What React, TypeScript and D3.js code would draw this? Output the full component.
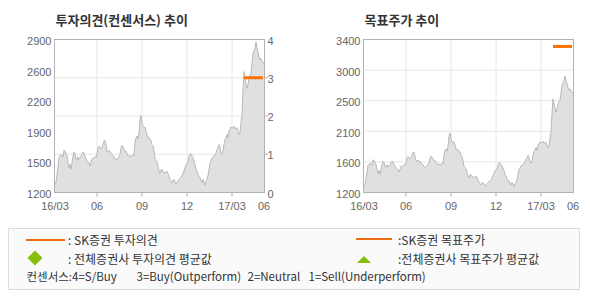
import React from 'react';
import * as d3 from 'd3';

// Daily price series (KRW), 16/03 .. 17/06
const prices: number[] = [
  1292, 1310, 1402, 1487, 1586, 1608, 1619, 1612, 1594, 1671,
  1660, 1634, 1605, 1531, 1476, 1513, 1458, 1531, 1605, 1649,
  1634, 1568, 1561, 1597, 1568, 1586, 1605, 1627, 1649, 1642,
  1597, 1575, 1557, 1542, 1524, 1494, 1531, 1575, 1575, 1586,
  1601, 1586, 1627, 1693, 1715, 1697, 1686, 1697, 1737, 1774,
  1781, 1723, 1656, 1649, 1667, 1656, 1638, 1623, 1608, 1597,
  1579, 1557, 1572, 1583, 1597, 1623, 1693, 1723, 1708, 1678,
  1660, 1660, 1634, 1612, 1601, 1612, 1594, 1605, 1619, 1605,
  1752, 1807, 1826, 1796, 1862, 2010, 2054, 1973, 1929, 1925,
  1925, 1881, 1833, 1815, 1815, 1789, 1781, 1734, 1719, 1660,
  1575, 1557, 1542, 1483, 1439, 1413, 1450, 1458, 1428, 1421,
  1413, 1432, 1436, 1410, 1377, 1347, 1329, 1310, 1329, 1347,
  1310, 1292, 1310, 1329, 1344, 1355, 1369, 1384, 1413, 1439,
  1472, 1513, 1524, 1539, 1597, 1627, 1627, 1605, 1586, 1550,
  1513, 1458, 1439, 1402, 1384, 1366, 1329, 1310, 1347, 1310,
  1281, 1329, 1347, 1384, 1458, 1531, 1550, 1586, 1586, 1605,
  1623, 1634, 1678, 1697, 1734, 1697, 1642, 1623, 1660, 1734,
  1789, 1807, 1844, 1807, 1881, 1899, 1929, 1918, 1918, 1936,
  1907, 1918, 1918, 1881, 1844, 1862, 1973, 2065, 2341, 2543,
  2470, 2414, 2359, 2396, 2470, 2506, 2525, 2635, 2745, 2782,
  2801, 2874, 2801, 2764, 2709, 2672, 2690, 2653, 2646, 2635,
];

const xTickIdx = [0, 42, 87, 132, 177, 209];
const xTickLabels = ['16/03', '06', '09', '12', '17/03', '06'];
const opinionPriceLabels = ['1200', '1500', '1900', '2200', '2600', '2900'];
const opinionLabels = ['0', '1', '2', '3', '4'];
const targetLabels = ['1200', '1600', '2100', '2500', '3000', '3400'];
const skOpinion = 3;
const skTarget = 3300;
const skStartIdx = 189;
const skEndIdx = 208;

const ORANGE = '#ff7200';
const GREEN = '#86c00c';
const GRID = '#e6e6e6';
const FRAME = '#b3b3b3';
const LABEL = '#666';
const KR = '"Noto Sans CJK KR", "Noto Sans", sans-serif';
const NUM = '"Liberation Sans", Arial, sans-serif';

const TOP = 39.5;
const BOTTOM = 192.5;

function Chart({
  x0,
  yMax,
  leftLabels,
  rightLabels,
  gridOnLeft,
  title,
  lineValue,
  lineScaleDomain,
}: any) {
  const x = d3.scaleLinear().domain([0, prices.length - 1]).range([x0, x0 + 209]);
  const y = d3.scaleLinear().domain([1200, yMax]).range([BOTTOM, TOP]);
  const lab = d3.scaleLinear().domain([0, leftLabels.length - 1]).range([BOTTOM, TOP]);
  const lineY = d3.scaleLinear().domain(lineScaleDomain).range([BOTTOM, TOP]);
  const rl = rightLabels
    ? d3.scaleLinear().domain([0, rightLabels.length - 1]).range([BOTTOM, TOP])
    : null;

  const area = d3
    .area<number>()
    .x((_, i) => x(i))
    .y0(BOTTOM)
    .y1((d) => y(d));
  const line = d3
    .line<number>()
    .x((_, i) => x(i))
    .y((d) => y(d));

  const gridYs: number[] = gridOnLeft
    ? leftLabels.slice(1, -1).map((_: any, i: number) => lab(i + 1))
    : rightLabels.slice(1, -1).map((_: any, i: number) => rl!(i + 1));

  const xl = x(0);
  const xr = x(prices.length - 1);

  return (
    <g>
      <text x={x0 + 0.5} y={25} fontFamily={KR} fontWeight="bold" fontSize={13} fill="#333">
        {title}
      </text>
      <rect x={xl} y={TOP} width={xr - xl} height={BOTTOM - TOP} fill="#fff" />
      {gridYs.map((gy, i) => (
        <line key={'gy' + i} x1={xl} x2={xr} y1={gy} y2={gy} stroke={GRID} />
      ))}
      {xTickIdx.slice(1, -1).map((t, i) => (
        <line key={'gx' + i} x1={x(t)} x2={x(t)} y1={TOP} y2={BOTTOM} stroke={GRID} />
      ))}
      <path d={area(prices) || ''} fill="#e0e0e0" />
      <path d={line(prices) || ''} fill="none" stroke="#b8b8b8" strokeWidth={1} />
      <line
        x1={x(skStartIdx)}
        x2={x(skEndIdx)}
        y1={lineY(lineValue)}
        y2={lineY(lineValue)}
        stroke={ORANGE}
        strokeWidth={3}
      />
      <rect
        x={xl - 0.5}
        y={TOP}
        width={xr - xl + 1}
        height={BOTTOM - TOP}
        fill="none"
        stroke={FRAME}
      />
      {xTickIdx.slice(1, -1).map((t, i) => (
        <line key={'tx' + i} x1={x(t)} x2={x(t)} y1={BOTTOM} y2={BOTTOM + 4} stroke={FRAME} />
      ))}
      {rightLabels &&
        rightLabels.slice(1, -1).map((_: any, i: number) => (
          <line
            key={'tr' + i}
            x1={xr}
            x2={xr + 4}
            y1={rl!(i + 1)}
            y2={rl!(i + 1)}
            stroke={FRAME}
          />
        ))}
      {leftLabels.map((l: string, i: number) => (
        <text
          key={'ll' + i}
          x={xl - 3.5}
          y={lab(i) + 1.5}
          textAnchor="end"
          dominantBaseline="central"
          fontFamily={NUM}
          fontSize={11}
          fill={LABEL}
        >
          {l}
        </text>
      ))}
      {rightLabels &&
        rightLabels.map((l: string, i: number) => (
          <text
            key={'rl' + i}
            x={xr + 3.5}
            y={rl!(i) + 1}
            dominantBaseline="central"
            fontFamily={NUM}
            fontSize={11}
            fill={LABEL}
          >
            {l}
          </text>
        ))}
      {xTickIdx.map((t, i) => (
        <text
          key={'xl' + i}
          x={x(t)}
          y={206}
          textAnchor="middle"
          dominantBaseline="central"
          fontFamily={NUM}
          fontSize={11}
          fill={LABEL}
        >
          {xTickLabels[i]}
        </text>
      ))}
    </g>
  );
}

export default function App() {
  const fs = 12;
  return (
    <svg
      width={590}
      height={300}
      style={{ position: 'absolute', left: 0, top: 0, background: '#fff' }}
    >
      <Chart
        x0={55}
        yMax={2900}
        leftLabels={opinionPriceLabels}
        rightLabels={opinionLabels}
        gridOnLeft={false}
        title="투자의견(컨센서스) 추이"
        lineValue={skOpinion}
        lineScaleDomain={[0, 4]}
      />
      <Chart
        x0={364}
        yMax={3400}
        leftLabels={targetLabels}
        rightLabels={null}
        gridOnLeft={true}
        title="목표주가 추이"
        lineValue={skTarget}
        lineScaleDomain={[1200, 3400]}
      />
      <rect x={8.5} y={228.5} width={571} height={61} fill="#fafafa" stroke="#dcdcdc" />
      <line x1={26} x2={65} y1={240} y2={240} stroke="#ec6c12" strokeWidth={2} />
      <text x={68} y={245} fontFamily={KR} fontSize={fs} fill="#333">
        : SK증권 투자의견
      </text>
      <path d="M35,250.5 L42.5,258 L35,265.5 L27.5,258 Z" fill={GREEN} />
      <text x={68} y={264} fontFamily={KR} fontSize={fs} fill="#333">
        : 전체증권사 투자의견 평균값
      </text>
      <text x={26.5} y={281} fontFamily={KR} fontSize={11.5} fill="#333">
        컨센서스:4=S/Buy
      </text>
      <text x={136.5} y={281} fontFamily={KR} fontSize={11.5} fill="#333">
        3=Buy(Outperform)
      </text>
      <text x={247.5} y={281} fontFamily={KR} fontSize={11.5} fill="#333">
        2=Neutral
      </text>
      <text x={308.5} y={281} fontFamily={KR} fontSize={11.5} fill="#333">
        1=Sell(Underperform)
      </text>
      <line x1={356} x2={392} y1={239} y2={239} stroke="#ec6c12" strokeWidth={2} />
      <text x={398} y={245} fontFamily={KR} fontSize={fs} fill="#333">
        :SK증권 목표주가
      </text>
      <path d="M364,256 L371,263 L357,263 Z" fill={GREEN} />
      <text x={398} y={264} fontFamily={KR} fontSize={fs} fill="#333">
        :전체증권사 목표주가 평균값
      </text>
    </svg>
  );
}
